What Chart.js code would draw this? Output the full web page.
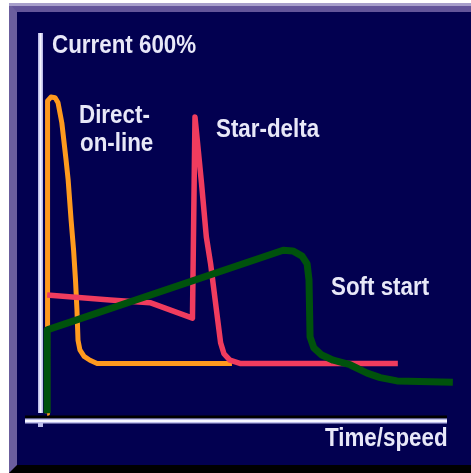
<!DOCTYPE html>
<html lang="en">
<head>
    <meta charset="UTF-8">
    <title>Motor starting current</title>
    <script src="https://cdn.jsdelivr.net/npm/chart.js"></script>
    <style>
        body {
            margin: 0;
            padding: 0;
            background: #ffffff;
            width: 471px;
            height: 473px;
            overflow: hidden;
        }
        .frame {
            position: absolute;
            left: 9px;
            top: 3px;
            right: 0;
            bottom: 0;
            background: #020050;
            border-left: 8px solid #6b5e9e;
            border-top: 9px solid #63559a;
            border-bottom: 8px solid #000000;
        }
        .frame::before {
            content: "";
            position: absolute;
            left: -8px;
            right: 0;
            top: -9px;
            height: 3px;
            background: #a79fcb;
        }
        #chart {
            position: absolute;
            left: 0;
            top: 0;
        }
    </style>
</head>
<body>
    <div class="frame"></div>
    <canvas id="chart" width="471" height="473"></canvas>

    <script>
        // time/speed axis runs 0..100, current axis 0..600 %
        const dolTime    = [1.7, 1.7, 1.9, 2.6, 3.6, 4.3, 5.2, 6.2, 6.7, 7.4, 8.0, 8.45, 8.8, 9.05, 9.5, 10.5, 11.9, 13.6, 45.7];
        const dolCurrent = [12, 481, 495, 501, 500, 492, 461, 404, 373, 311, 264, 218, 172, 125, 110, 100, 94, 89, 89];

        const sdTime    = [1.7, 16.7, 26.2, 36.3, 36.9, 38.45, 39.6, 40.6, 42.1, 43.0, 43.8, 45.2, 47.6, 85.2];
        const sdCurrent = [195, 187, 183, 159, 470, 368, 285, 244, 167, 121, 104, 94, 89, 89];

        const ssTime    = [1.7, 1.7, 57.9, 60.2, 62.4, 63.6, 64.05, 64.3, 65.2, 67.1, 69.8, 73.8, 77.9, 81.0, 85.0, 98.3];
        const ssCurrent = [12, 141, 264, 263, 255, 243, 218, 130, 113, 102, 94, 87, 74, 67, 62, 60];

        const seriesNames = ["Soft start", "Star-delta", "Direct-on-line"];
        const yAxisLabel = "Current 600%";
        const xAxisLabel = "Time/speed";

        function toPoints(xs, ys) {
            return xs.map((x, i) => ({ x: x, y: ys[i] }));
        }

        const textColor = "#e8e8f8";

        const decorations = {
            id: "decorations",
            beforeDatasetsDraw(chart) {
                const ctx = chart.ctx;
                const a = chart.chartArea;
                ctx.save();
                // shadow above x axis
                ctx.strokeStyle = "#000000";
                ctx.lineWidth = 3;
                ctx.beginPath();
                ctx.moveTo(a.left - 15, a.bottom - 4);
                ctx.lineTo(a.right - 13, a.bottom - 4);
                ctx.stroke();
                // y axis
                ctx.lineCap = "butt";
                ctx.strokeStyle = "#bcbce8";
                ctx.lineWidth = 5;
                ctx.beginPath();
                ctx.moveTo(a.left + 0.5, a.top);
                ctx.lineTo(a.left + 0.5, a.bottom - 8);
                ctx.stroke();
                ctx.strokeStyle = "#f6f6ff";
                ctx.lineWidth = 2;
                ctx.stroke();
                // x axis
                ctx.strokeStyle = "#bcbce8";
                ctx.lineWidth = 5;
                ctx.beginPath();
                ctx.moveTo(a.left - 15, a.bottom);
                ctx.lineTo(a.right - 13, a.bottom);
                ctx.moveTo(a.left + 0.5, a.bottom);
                ctx.lineTo(a.left + 0.5, a.bottom + 6);
                ctx.stroke();
                ctx.strokeStyle = "#f6f6ff";
                ctx.lineWidth = 2;
                ctx.beginPath();
                ctx.moveTo(a.left - 15, a.bottom);
                ctx.lineTo(a.right - 13, a.bottom);
                ctx.stroke();
                ctx.restore();
            },
            afterDraw(chart) {
                const ctx = chart.ctx;
                const a = chart.chartArea;
                const put = (txt, x, y) => {
                    ctx.save();
                    ctx.translate(x, y);
                    ctx.scale(0.86, 1);
                    ctx.fillText(txt, 0, 0);
                    ctx.restore();
                };
                ctx.save();
                ctx.fillStyle = textColor;
                ctx.font = "bold 26px 'Liberation Sans', Arial, sans-serif";
                ctx.textBaseline = "alphabetic";
                ctx.textAlign = "left";
                put(yAxisLabel, a.left + 12, a.top + 20);
                put("Direct-", a.left + 39, a.top + 90);
                put("on-line", a.left + 40, a.top + 118);
                put(seriesNames[1], a.left + 176, a.top + 104);
                put(seriesNames[0], a.left + 291, a.top + 262);
                put(xAxisLabel, a.left + 285, a.bottom + 25);
                ctx.restore();
            }
        };

        new Chart(document.getElementById("chart"), {
            type: "line",
            data: {
                datasets: [
                    { label: seriesNames[0], data: toPoints(ssTime, ssCurrent), borderColor: "#00520c", borderWidth: 7 },
                    { label: seriesNames[1], data: toPoints(sdTime, sdCurrent), borderColor: "#f03c5e", borderWidth: 5.5 },
                    { label: seriesNames[2], data: toPoints(dolTime, dolCurrent), borderColor: "#ff9a1e", borderWidth: 5 }
                ]
            },
            options: {
                responsive: false,
                animation: false,
                devicePixelRatio: 1,
                layout: { padding: { left: 40, top: 33, right: 11, bottom: 52 } },
                elements: {
                    point: { radius: 0 },
                    line: { tension: 0, borderJoinStyle: "round", borderCapStyle: "butt", fill: false }
                },
                scales: {
                    x: { type: "linear", min: 0, max: 100, display: false },
                    y: { type: "linear", min: 0, max: 600, display: false }
                },
                plugins: {
                    legend: { display: false },
                    tooltip: { enabled: false },
                    title: { display: false }
                }
            },
            plugins: [decorations]
        });
    </script>
</body>
</html>
